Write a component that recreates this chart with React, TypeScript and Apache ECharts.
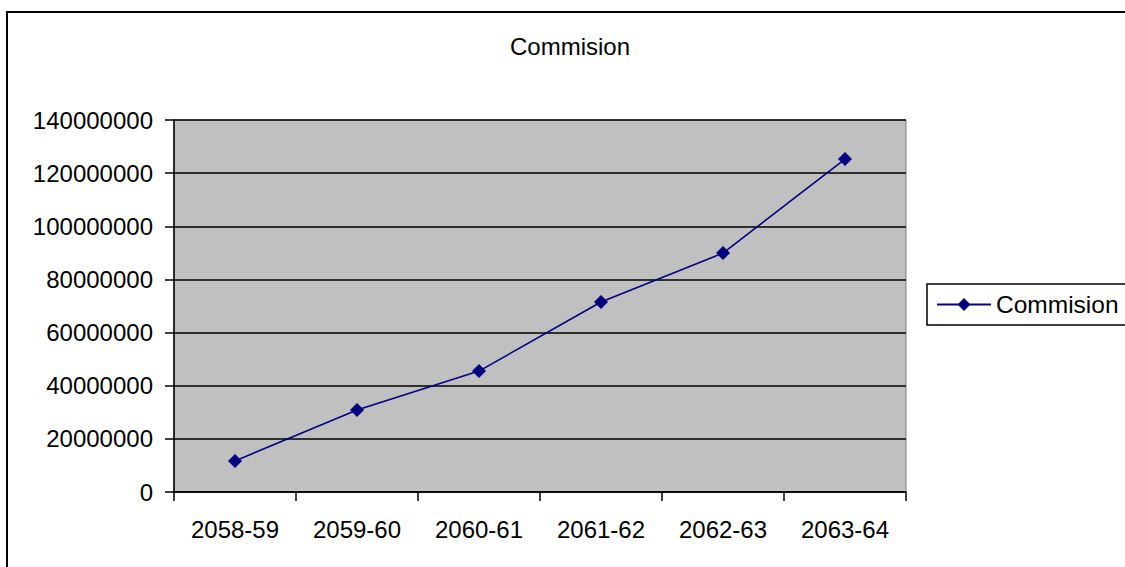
import React, { useEffect, useRef } from "react";
import * as echarts from "echarts";

const categories = ["2058-59", "2059-60", "2060-61", "2061-62", "2062-63", "2063-64"];
const commision = [11700000, 30900000, 45500000, 71500000, 89900000, 125300000];
const seriesName = "Commision";
const titleText = "Commision";

export default function App() {
  const ref = useRef<HTMLDivElement>(null);
  useEffect(() => {
    if (!ref.current) return;
    const chart = echarts.init(ref.current, null, { renderer: "svg" });
    const font = "'Liberation Sans', Arial, sans-serif";
    chart.setOption({
      animation: false,
      backgroundColor: "#ffffff",
      textStyle: { fontFamily: font },
      title: {
        text: titleText,
        left: 510,
        top: 34,
        padding: 0,
        textStyle: { fontFamily: font, fontSize: 24, fontWeight: "normal", color: "#000" },
      },
      graphic: [
        {
          type: "rect",
          shape: { x: 7, y: 12, width: 1130, height: 570 },
          style: { fill: "none", stroke: "#000", lineWidth: 2 },
          silent: true,
        },
      ],
      legend: {
        left: 927,
        top: 284,
        orient: "vertical",
        borderColor: "#000",
        borderWidth: 1.5,
        padding: [8, 40, 8, 9],
        itemWidth: 54,
        itemHeight: 16,
        itemGap: 0,
        textStyle: { fontFamily: font, fontSize: 24.5, color: "#000", padding: [0, 0, 0, 0] },
        data: [seriesName],
      },
      grid: {
        left: 174,
        top: 120,
        width: 732,
        height: 372,
        show: true,
        backgroundColor: "#C0C0C0",
        borderColor: "#808080",
        borderWidth: 1,
        containLabel: false,
      },
      xAxis: {
        type: "category",
        data: categories,
        boundaryGap: true,
        axisLine: { show: true, lineStyle: { color: "#000", width: 1.5 } },
        axisTick: { show: true, alignWithLabel: false, length: 9, lineStyle: { color: "#000", width: 1.5 } },
        axisLabel: { fontFamily: font, fontSize: 24, color: "#000", margin: 25 },
        splitLine: { show: false },
      },
      yAxis: {
        type: "value",
        min: 0,
        max: 140000000,
        interval: 20000000,
        axisLine: { show: true, lineStyle: { color: "#000", width: 1.5 } },
        axisTick: { show: true, inside: false, length: 9, lineStyle: { color: "#000", width: 1.5 } },
        axisLabel: {
          fontFamily: font,
          fontSize: 24,
          color: "#000",
          margin: 21,
          formatter: (v: number) => String(v),
        },
        splitLine: { show: true, lineStyle: { color: "#000", width: 1.5 } },
      },
      series: [
        {
          name: seriesName,
          type: "line",
          data: commision,
          symbol: "diamond",
          symbolSize: 14,
          itemStyle: { color: "#000080" },
          lineStyle: { color: "#000080", width: 1.6 },
        },
      ],
    });
    return () => chart.dispose();
  }, []);
  return (
    <div
      ref={ref}
      style={{ position: "fixed", left: 0, top: 0, width: 1125, height: 567 }}
    />
  );
}
